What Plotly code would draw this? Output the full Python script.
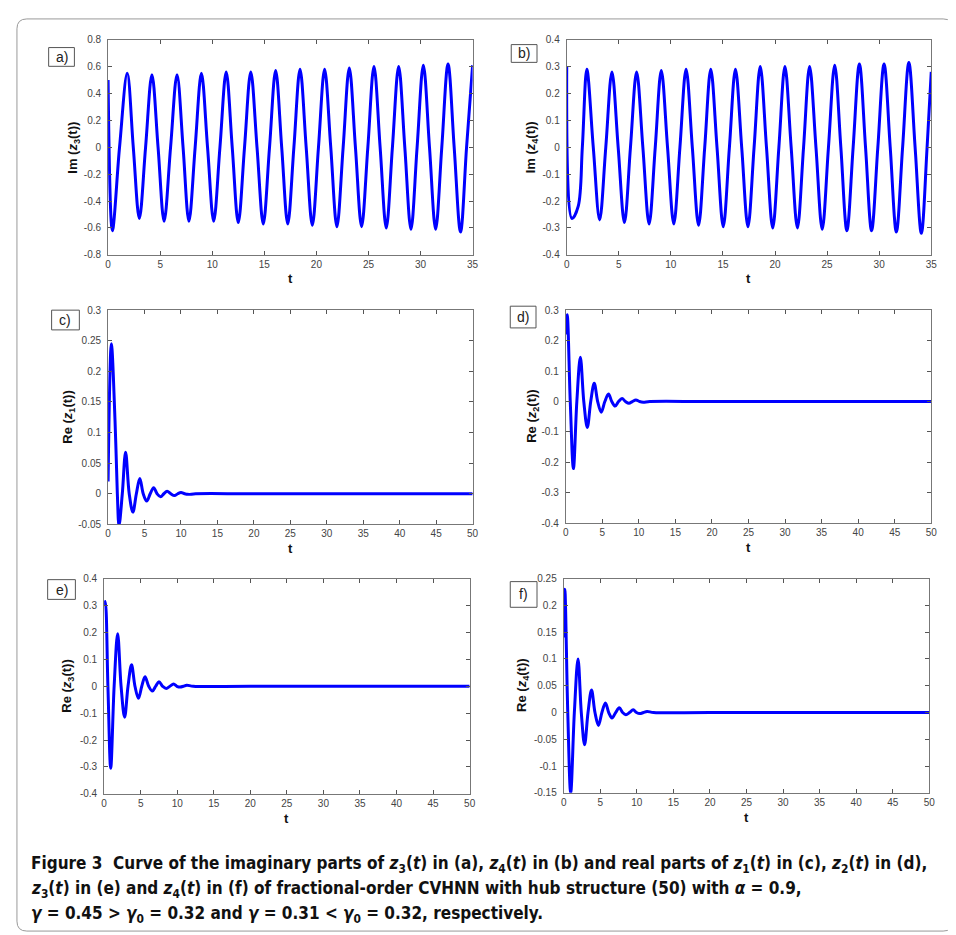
import plotly.graph_objects as go

W, H = 956, 935

# ---------------- data ----------------
a_t = [0, 0.41, 1.1, 1.84, 2.42, 3.0, 3.6, 4.21, 4.8, 5.38, 6.0, 6.62, 7.2, 7.76, 8.36, 8.96,
       9.55, 10.14, 10.74, 11.34, 11.92, 12.5, 13.1, 13.7, 14.3, 14.9, 15.5, 16.09, 16.67, 17.25,
       17.84, 18.43, 19.02, 19.61, 20.2, 20.79, 21.38, 21.97, 22.57, 23.16, 23.75, 24.34, 24.94,
       25.53, 26.12, 26.71, 27.3, 27.9, 28.49, 29.08, 29.67, 30.27, 30.86, 31.45, 32.04, 32.64,
       33.23, 33.84, 34.42, 35.0]
a_y = [0.50, -0.62, 0, 0.55, 0, -0.53, 0, 0.54, 0, -0.55, 0, 0.54, 0, -0.55, 0, 0.55,
       0, -0.55, 0, 0.56, 0, -0.56, 0, 0.56, 0, -0.57, 0, 0.57, 0, -0.57,
       0, 0.58, 0, -0.58, 0, 0.58, 0, -0.59, 0, 0.59, 0, -0.59, 0,
       0.60, 0, -0.60, 0, 0.60, 0, -0.61, 0, 0.61, 0, -0.61, 0, 0.62,
       0, -0.63, 0, 0.61]

b_t = [0, 0.5, 1.1, 1.5, 1.93, 2.55, 3.16, 3.75, 4.34, 4.94, 5.54, 6.12, 6.71, 7.31, 7.91, 8.5,
       9.08, 9.68, 10.28, 10.87, 11.46, 12.06, 12.66, 13.25, 13.83, 14.43, 15.03, 15.62, 16.2,
       16.8, 17.4, 17.99, 18.58, 19.18, 19.78, 20.37, 20.95, 21.55, 22.15, 22.74, 23.32, 23.93,
       24.53, 25.13, 25.73, 26.32, 26.9, 27.5, 28.1, 28.69, 29.27, 29.87, 30.47, 31.06, 31.65,
       32.25, 32.85, 33.45, 34.05, 34.6, 35.0]
b_y = [0.30, -0.265, -0.22, 0, 0.29, 0, -0.27, 0, 0.28, 0, -0.28, 0, 0.28, 0, -0.285, 0,
       0.285, 0, -0.285, 0, 0.29, 0, -0.29, 0, 0.29, 0, -0.295, 0, 0.29,
       0, -0.295, 0, 0.30, 0, -0.30, 0, 0.30, 0, -0.30, 0, 0.30, 0,
       -0.305, 0, 0.305, 0, -0.31, 0, 0.31, 0, -0.31, 0, 0.31, 0, -0.315,
       0, 0.315, 0, -0.32, 0, 0.28]

c_t = [0, 0.45, 0.95, 1.27, 1.5, 1.95, 2.4, 2.9, 3.4, 3.88, 4.35, 4.82, 5.3, 5.78, 6.25, 6.72,
       7.2, 7.65, 8.1, 8.6, 9.1, 9.55, 10.0, 10.5, 11.0, 12.0, 20.0, 50.0]
c_y = [0.02, 0.245, 0.12, 0, -0.052, 0, 0.068, 0, -0.030, 0, 0.025, 0, -0.012, 0, 0.010, 0,
       -0.005, 0, 0.004, 0, -0.003, 0, 0.002, 0, -0.001, 0, 0, 0]

d_t = [0, 0.2, 0.62, 1.05, 1.52, 2.0, 2.47, 2.95, 3.42, 3.9, 4.37, 4.85, 5.35, 5.85, 6.3, 6.75,
       7.22, 7.7, 8.17, 8.65, 9.12, 9.6, 10.1, 10.6, 11.5, 20, 50]
d_y = [0.22, 0.285, 0, -0.22, 0, 0.145, 0, -0.085, 0, 0.06, 0, -0.035, 0, 0.025, 0, -0.015,
       0, 0.010, 0, -0.006, 0, 0.005, 0, -0.002, 0, 0, 0]

e_t = [0, 0.15, 0.52, 0.9, 1.37, 1.85, 2.32, 2.8, 3.27, 3.75, 4.22, 4.7, 5.15, 5.6, 6.1, 6.6,
       7.05, 7.5, 8.0, 8.5, 9.0, 9.5, 9.95, 10.4, 10.85, 11.3, 12.2, 20, 50]
e_y = [0.30, 0.315, 0, -0.305, 0, 0.195, 0, -0.115, 0, 0.08, 0, -0.045, 0, 0.035, 0, -0.018,
       0, 0.017, 0, -0.008, 0, 0.008, 0, -0.003, 0, 0.004, 0, 0, 0]

f_t = [0, 0.15, 0.55, 0.95, 1.45, 1.95, 2.4, 2.85, 3.32, 3.8, 4.27, 4.75, 5.22, 5.7, 6.15, 6.6,
       7.1, 7.6, 8.05, 8.5, 9.0, 9.5, 9.95, 10.4, 10.9, 11.4, 12.3, 20, 50]
f_y = [0.14, 0.23, 0, -0.15, 0, 0.10, 0, -0.06, 0, 0.042, 0, -0.024, 0, 0.018, 0, -0.010,
       0, 0.009, 0, -0.004, 0, 0.005, 0, -0.002, 0, 0.002, 0, 0, 0]

# tick labels
x35_vals = [0, 5, 10, 15, 20, 25, 30, 35]
x50_vals = [0, 5, 10, 15, 20, 25, 30, 35, 40, 45, 50]
ya_vals = [-0.8, -0.6, -0.4, -0.2, 0, 0.2, 0.4, 0.6, 0.8]
ya_text = ["-0.8", "-0.6", "-0.4", "-0.2", "0", "0.2", "0.4", "0.6", "0.8"]
yb_vals = [-0.4, -0.3, -0.2, -0.1, 0, 0.1, 0.2, 0.3, 0.4]
yb_text = ["-0.4", "-0.3", "-0.2", "-0.1", "0", "0.1", "0.2", "0.3", "0.4"]
yc_vals = [-0.05, 0, 0.05, 0.1, 0.15, 0.2, 0.25, 0.3]
yc_text = ["-0.05", "0", "0.05", "0.1", "0.15", "0.2", "0.25", "0.3"]
yd_vals = [-0.4, -0.3, -0.2, -0.1, 0, 0.1, 0.2, 0.3]
yd_text = ["-0.4", "-0.3", "-0.2", "-0.1", "0", "0.1", "0.2", "0.3"]
ye_vals = yb_vals
ye_text = yb_text
yf_vals = [-0.15, -0.1, -0.05, 0, 0.05, 0.1, 0.15, 0.2, 0.25]
yf_text = ["-0.15", "-0.1", "-0.05", "0", "0.05", "0.1", "0.15", "0.2", "0.25"]

panel_letters = ["a)", "b)", "c)", "d)", "e)", "f)"]
y_titles = ["Im (<i>z</i><sub>3</sub>(t))", "Im (<i>z</i><sub>4</sub>(t))",
            "Re (<i>z</i><sub>1</sub>(t))", "Re (<i>z</i><sub>2</sub>(t))",
            "Re (<i>z</i><sub>3</sub>(t))", "Re (<i>z</i><sub>4</sub>(t))"]

caption_lines = [
    "Figure 3  Curve of the imaginary parts of <i>z</i><sub>3</sub>(<i>t</i>) in (a), "
    "<i>z</i><sub>4</sub>(<i>t</i>) in (b) and real parts of <i>z</i><sub>1</sub>(<i>t</i>) in (c), "
    "<i>z</i><sub>2</sub>(<i>t</i>) in (d),",
    "<i>z</i><sub>3</sub>(<i>t</i>) in (e) and <i>z</i><sub>4</sub>(<i>t</i>) in (f) of "
    "fractional-order CVHNN with hub structure (50) with <i>α</i> = 0.9,",
    "<i>γ</i> = 0.45 > <i>γ</i><sub>0</sub> = 0.32 and <i>γ</i> = 0.31 < <i>γ</i><sub>0</sub> = 0.32, respectively.",
]

# ---------------- layout geometry (pixels) ----------------
# (x0, x1, ytop, ybottom)
boxes = [(98, 466, 26, 244), (561, 929, 26, 244),
         (98, 466, 300, 517), (560, 929, 300, 516),
         (94, 463, 572, 790), (558, 927, 572, 789)]
series = [(a_t, a_y), (b_t, b_y), (c_t, c_y), (d_t, d_y), (e_t, e_y), (f_t, f_y)]
xr = [35, 35, 50, 50, 50, 50]
yticks = [(ya_vals, ya_text), (yb_vals, yb_text), (yc_vals, yc_text),
          (yd_vals, yd_text), (ye_vals, ye_text), (yf_vals, yf_text)]
letter_boxes = [(38, 64, 34, 53), (505, 531, 31, 49), (41, 69, 300, 320),
                (504, 530, 296, 318), (37, 65, 573, 593), (504, 531, 575, 601)]
ytitle_x = [63, 525, 58, 527, 57, 517]
xtitle_y = [268, 268, 541, 540, 815, 814]

px = lambda x: x / W
py = lambda y: 1 - y / H

fig = go.Figure()
layout = dict(width=W, height=H, margin=dict(l=0, r=0, t=0, b=0),
              paper_bgcolor="white", plot_bgcolor="white", showlegend=False)
annotations = []
shapes = []

tickfont = dict(family="Liberation Sans, Arial, sans-serif", size=10, color="#444")
labfont = dict(family="Liberation Sans, Arial, sans-serif", size=13, color="#111")
for i, ((t, y), (x0, x1, yt, yb)) in enumerate(zip(series, boxes)):
    n = "" if i == 0 else str(i + 1)
    fig.add_trace(go.Scatter(x=t, y=y, mode="lines",
                             line=dict(color="#0000FF", width=3, shape="spline", smoothing=1.0),
                             xaxis="x" + n, yaxis="y" + n, hoverinfo="skip"))
    xv = x35_vals if xr[i] == 35 else x50_vals
    yv, ytx = yticks[i]
    layout["xaxis" + n] = dict(domain=[px(x0), px(x1)], range=[0, xr[i]], anchor="y" + n,
                               tickvals=xv, ticktext=[str(v) for v in xv],
                               ticks="inside", ticklen=4, tickcolor="#555",
                               showline=True, linecolor="#777", linewidth=1,
                               mirror="allticks", showgrid=False, zeroline=False,
                               tickfont=tickfont, ticklabelstandoff=0, fixedrange=True)
    layout["yaxis" + n] = dict(domain=[py(yb), py(yt)], range=[yv[0], yv[-1]], anchor="x" + n,
                               tickvals=yv, ticktext=ytx,
                               ticks="inside", ticklen=4, tickcolor="#555",
                               showline=True, linecolor="#777", linewidth=1,
                               mirror="allticks", showgrid=False, zeroline=False,
                               tickfont=tickfont, ticklabelstandoff=4, fixedrange=True)
    # y title
    annotations.append(dict(x=px(ytitle_x[i]), y=py((yt + yb) / 2), xref="paper", yref="paper",
                            text="<b>" + y_titles[i] + "</b>", textangle=-90, showarrow=False,
                            xanchor="center", yanchor="middle", font=labfont))
    # x title
    annotations.append(dict(x=px((x0 + x1) / 2), y=py(xtitle_y[i]), xref="paper", yref="paper",
                            text="<b>t</b>", showarrow=False, xanchor="center", yanchor="middle",
                            font=labfont))
    # panel letter box
    lx0, lx1, ly0, ly1 = letter_boxes[i]
    shapes.append(dict(type="rect", xref="paper", yref="paper",
                       x0=px(lx0), x1=px(lx1), y0=py(ly1), y1=py(ly0),
                       line=dict(color="#555", width=1), fillcolor="white"))
    annotations.append(dict(x=px((lx0 + lx1) / 2), y=py((ly0 + ly1) / 2), xref="paper", yref="paper",
                            text=panel_letters[i], showarrow=False, xanchor="center", yanchor="middle",
                            font=dict(family="Liberation Sans, Arial, sans-serif", size=14, color="#222")))

# caption
cap_y = [862, 887, 912]
for line, yy in zip(caption_lines, cap_y):
    annotations.append(dict(x=px(18), y=py(yy), xref="paper", yref="paper", text="<b>" + line + "</b>",
                            showarrow=False, xanchor="left", yanchor="middle", align="left",
                            font=dict(family="Liberation Sans Narrow, DejaVu Sans Condensed, sans-serif",
                                      size=17, color="#111")))

# outer rounded frame
fx0, fx1, fy0, fy1, r = 6, 951, 5, 929, 10
path = (f"M {px(fx0 + r)},{py(fy0)} L {px(fx1 - r)},{py(fy0)} Q {px(fx1)},{py(fy0)} {px(fx1)},{py(fy0 + r)} "
        f"L {px(fx1)},{py(fy1 - r)} Q {px(fx1)},{py(fy1)} {px(fx1 - r)},{py(fy1)} "
        f"L {px(fx0 + r)},{py(fy1)} Q {px(fx0)},{py(fy1)} {px(fx0)},{py(fy1 - r)} "
        f"L {px(fx0)},{py(fy0 + r)} Q {px(fx0)},{py(fy0)} {px(fx0 + r)},{py(fy0)} Z")
shapes.append(dict(type="path", xref="paper", yref="paper", path=path,
                   line=dict(color="#999", width=1)))

layout["annotations"] = annotations
layout["shapes"] = shapes
fig.update_layout(**layout)
fig.write_html("out.html")
